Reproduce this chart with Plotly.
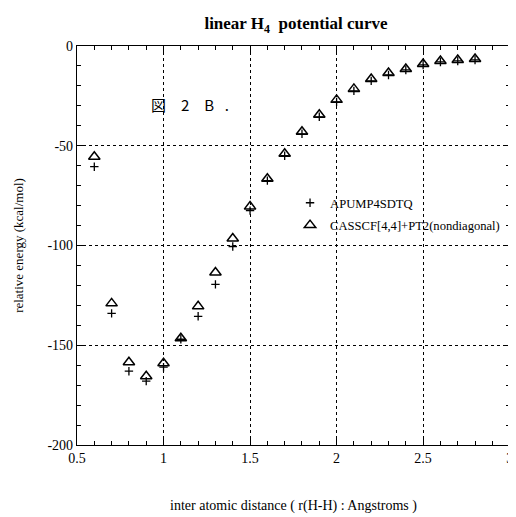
import plotly.graph_objects as go

r_values = [0.6, 0.7, 0.8, 0.9, 1.0, 1.1, 1.2, 1.3, 1.4, 1.5, 1.6, 1.7,
            1.8, 1.9, 2.0, 2.1, 2.2, 2.3, 2.4, 2.5, 2.6, 2.7, 2.8]
casscf_pt2 = [-55.5, -129, -158.5, -165.5, -159, -146.5, -130.5, -113.5, -96.5,
              -80.5, -66.5, -54, -43, -34.5, -27, -21.5, -16.5, -13.5, -11.5,
              -9, -7.5, -7, -6.5]
apump = [-60.5, -134, -163, -168, -161, -147, -135.5, -119.5, -100.5, -82.5,
         -67.5, -55, -44, -35.5, -28, -22.5, -17.5, -14.5, -12, -9.5, -8,
         -7.5, -7]
x_ticks = [0.5, 1, 1.5, 2, 2.5, 3]
x_tick_text = ["0.5", "1", "1.5", "2", "2.5", "3"]
y_ticks = [0, -50, -100, -150, -200]
y_tick_text = ["0", "-50", "-100", "-150", "-200"]

serif = "Liberation Serif, Times New Roman, serif"

fig = go.Figure()
fig.add_trace(go.Scatter(
    x=r_values, y=apump, mode="markers", name="APUMP4SDTQ", legendgroup="a",
    marker=dict(symbol="cross-thin", size=6, color="black",
                line=dict(color="black", width=1.3)),
))
fig.add_trace(go.Scatter(
    x=r_values, y=casscf_pt2, mode="markers", legendgroup="b",
    name="CASSCF[4,4]+PT2(nondiagonal)",
    marker=dict(symbol="triangle-up-open", size=10, color="black",
                line=dict(color="black", width=1.5)),
))

axis_common = dict(
    showline=True, linecolor="black", linewidth=1.3, mirror="allticks",
    ticks="inside", ticklen=7, tickcolor="black", automargin=False,
    ticklabeloverflow="allow",
    showgrid=True, gridcolor="black", griddash="dot", gridwidth=1,
    zeroline=False, tickfont=dict(family=serif, size=14, color="black"),
)

fig.update_xaxes(
    range=[0.5, 3.002], tickvals=x_ticks, ticktext=x_tick_text,
    minor=dict(ticks="inside", dtick=0.1, ticklen=4, tickcolor="black",
               showgrid=False),
    title=dict(text="inter atomic distance ( r(H-H) : Angstroms )",
               font=dict(family=serif, size=14, color="black"), standoff=35),
    **axis_common,
)
fig.update_yaxes(
    range=[-200, 0], tickvals=y_ticks, ticktext=y_tick_text,
    minor=dict(ticks="inside", dtick=10, ticklen=4, tickcolor="black",
               showgrid=False),
    title=dict(text="relative energy (kcal/mol)",
               font=dict(family=serif, size=13, color="black"), standoff=20),
    **axis_common,
)

fig.update_layout(
    width=508, height=509,
    margin=dict(l=69, r=6, t=38, b=72),
    paper_bgcolor="white", plot_bgcolor="white",
    title=dict(text="<b>linear H<sub>4</sub>  potential curve</b>",
               x=0.567, xanchor="center", y=0.982, yanchor="top",
               font=dict(family=serif, size=17, color="black")),
    showlegend=True,
    legend=dict(x=0.492, y=0.644, xanchor="left", yanchor="top",
                bgcolor="rgba(0,0,0,0)", itemsizing="trace", itemwidth=30,
                font=dict(family=serif, size=12.6, color="black"),
                tracegroupgap=3),
    annotations=[dict(text="図\u30002\u2002\u2002B\u2002\u2009.",
                      x=0.914, y=-29.5, xref="x", yref="y",
                      xanchor="left", yanchor="middle", showarrow=False,
                      font=dict(family="Noto Sans CJK JP", size=15,
                                color="black"))],
)

fig.write_html("out.html")
